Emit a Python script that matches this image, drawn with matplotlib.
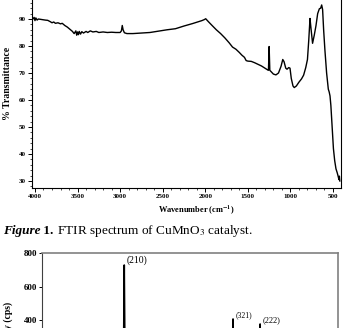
import matplotlib
matplotlib.use("Agg")
import matplotlib.pyplot as plt
from matplotlib.ticker import MultipleLocator

plt.rcParams['font.family'] = ['Liberation Serif', 'DejaVu Serif']
plt.rcParams['mathtext.fontset'] = 'stix'

# FTIR spectrum (wavenumber cm-1, % transmittance)
wavenumber = [4030, 4010, 4000, 3990, 3975, 3960, 3920, 3880, 3850, 3820, 3800, 3780,
              3760, 3730, 3700, 3680, 3650, 3620, 3590, 3560, 3540, 3520, 3510, 3500,
              3490, 3480, 3465, 3450, 3430, 3400, 3380, 3350, 3320, 3280, 3250, 3200,
              3150, 3100, 3050, 3000, 2985, 2975, 2965, 2950, 2920, 2850, 2750, 2650,
              2550, 2450, 2350, 2250, 2150, 2080, 2040, 2010, 1995, 1960, 1920, 1870,
              1820, 1770, 1720, 1680, 1640, 1600, 1570, 1540, 1520, 1500, 1460, 1420,
              1380, 1340, 1300, 1270, 1258, 1250, 1242, 1230, 1200, 1170, 1140, 1110,
              1090, 1075, 1055, 1040, 1020, 1005, 990, 970, 955, 930, 900, 870, 845,
              820, 800, 785, 770, 760, 740, 720, 700, 680, 660, 645, 633, 622, 610,
              595, 575, 555, 545, 535, 525, 510, 495, 480, 465, 450, 440, 430, 425, 420]
transmittance = [89.8, 90.6, 89.4, 90.4, 89.6, 90.0, 89.8, 89.6, 89.5, 89.0, 88.6, 88.9,
                 88.4, 88.6, 88.2, 88.4, 87.6, 87.0, 86.2, 85.4, 84.6, 85.6, 84.0, 85.2,
                 84.2, 85.4, 84.4, 85.3, 84.8, 85.4, 85.0, 85.6, 85.2, 85.4, 85.0, 85.2,
                 85.0, 85.1, 85.0, 85.0, 85.6, 87.6, 86.0, 84.9, 84.6, 84.6, 84.8, 85.0,
                 85.5, 86.0, 86.4, 87.4, 88.3, 89.0, 89.4, 89.8, 90.1, 88.9, 87.6, 86.0,
                 84.6, 83.0, 81.2, 79.6, 78.8, 77.6, 76.6, 75.8, 74.6, 74.4, 74.3, 73.8,
                 73.2, 72.6, 71.8, 71.2, 71.0, 79.8, 71.0, 70.6, 69.6, 69.3, 70.0, 72.5,
                 75.0, 74.2, 71.8, 71.4, 72.0, 71.8, 68.0, 65.2, 64.6, 65.2, 66.6, 67.8, 69.2,
                 72.0, 75.0, 82.0, 90.2, 87.0, 81.0, 84.0, 87.5, 92.0, 93.8, 94.0, 95.2, 93.5, 86.0,
                 78.5, 70.0, 64.0, 63.0, 61.5, 58.0, 50.0, 42.0, 37.5, 34.5, 33.0, 31.8, 30.5, 31.8, 30.0]
ftir_xticks = [4000, 3500, 3000, 2500, 2000, 1500, 1000, 500]
ftir_yticks = [30, 40, 50, 60, 70, 80, 90]

# XRD pattern (2theta, intensity cps)
two_theta = [10, 29.3, 29.5, 29.7, 55.0, 55.2, 55.4, 61.4, 61.6, 61.8, 80]
intensity = [60, 60, 728, 60, 60, 406, 60, 60, 376, 60, 60]
peak_labels = ['(210)', '(321)', '(222)']
peak_pos = [29.5, 55.2, 61.6]
peak_int = [728, 406, 376]
xrd_yticks = [400, 600, 800]

W, H = 344, 328
fig = plt.figure(figsize=(W / 100, H / 100), dpi=100)

# ---- top chart: FTIR
ax = fig.add_axes([32 / W, 1 - 188 / H, 309 / W, (188 + 8) / H])
ax.plot(wavenumber, transmittance, color='black', lw=1.0)
ax.set_xlim(4035, 406)
ax.set_ylim(27.4, 100)
ax.set_xticks(ftir_xticks)
ax.set_yticks(ftir_yticks)
ax.xaxis.set_minor_locator(MultipleLocator(100))
ax.yaxis.set_minor_locator(MultipleLocator(2))
ax.tick_params(which='major', length=3, width=0.7, labelsize=5, pad=1.5)
ax.tick_params(which='minor', length=1.5, width=0.5)
for lab in ax.get_xticklabels() + ax.get_yticklabels():
    lab.set_fontweight('bold')
ax.spines['top'].set_visible(False)
for s in ['left', 'bottom', 'right']:
    ax.spines[s].set_linewidth(0.8)

fig.text(196 / W, 1 - 210 / H, r'Wavenumber (cm$\mathbf{^{-1}}$)', fontsize=6,
         fontweight='bold', ha='center', va='center')
fig.text(8 / W, 1 - 83 / H, '% Transmittance', fontsize=7, fontweight='bold',
         rotation=90, ha='center', va='center')

# caption built piece by piece
renderer = fig.canvas.get_renderer()
x = 3 / W
y = 1 - 234 / H
pieces = [('Figure', dict(fontweight='bold', fontstyle='italic')),
          (' 1.', dict(fontweight='bold')),
          (' FTIR spectrum of CuMnO$_3$ catalyst.', dict())]
for s, kw in pieces:
    t = fig.text(x, y, s, fontsize=9.5, ha='left', va='baseline', **kw)
    x = t.get_window_extent(renderer).x1 / W

# ---- bottom chart: XRD (cut off)
ax2 = fig.add_axes([41.7 / W, 1 - 387 / H, 296.3 / W, 134 / H])
ax2.plot(two_theta, intensity, color='black', lw=1.2)
for lab, px, py, fs in zip(peak_labels, peak_pos, peak_int, [7, 5.5, 6]):
    ax2.text(px + 0.6, py, lab, fontsize=fs, ha='left', va='bottom')
ax2.set_xlim(10, 80)
ax2.set_ylim(0, 800)
ax2.set_yticks(xrd_yticks)
ax2.set_xticks([])
ax2.tick_params(length=2.5, width=0.7, labelsize=6.5, pad=1)
for lab in ax2.get_yticklabels():
    lab.set_fontweight('bold')
for s in ['top', 'right']:
    ax2.spines[s].set_color('#808080')
    ax2.spines[s].set_linewidth(1.2)
ax2.spines['left'].set_color('#404040')
fig.text(8 / W, 1 - 331 / H, 'Intensity (cps)', fontsize=7, fontweight='bold',
         rotation=90, ha='center', va='center')

fig.savefig('out.png', dpi=100)
